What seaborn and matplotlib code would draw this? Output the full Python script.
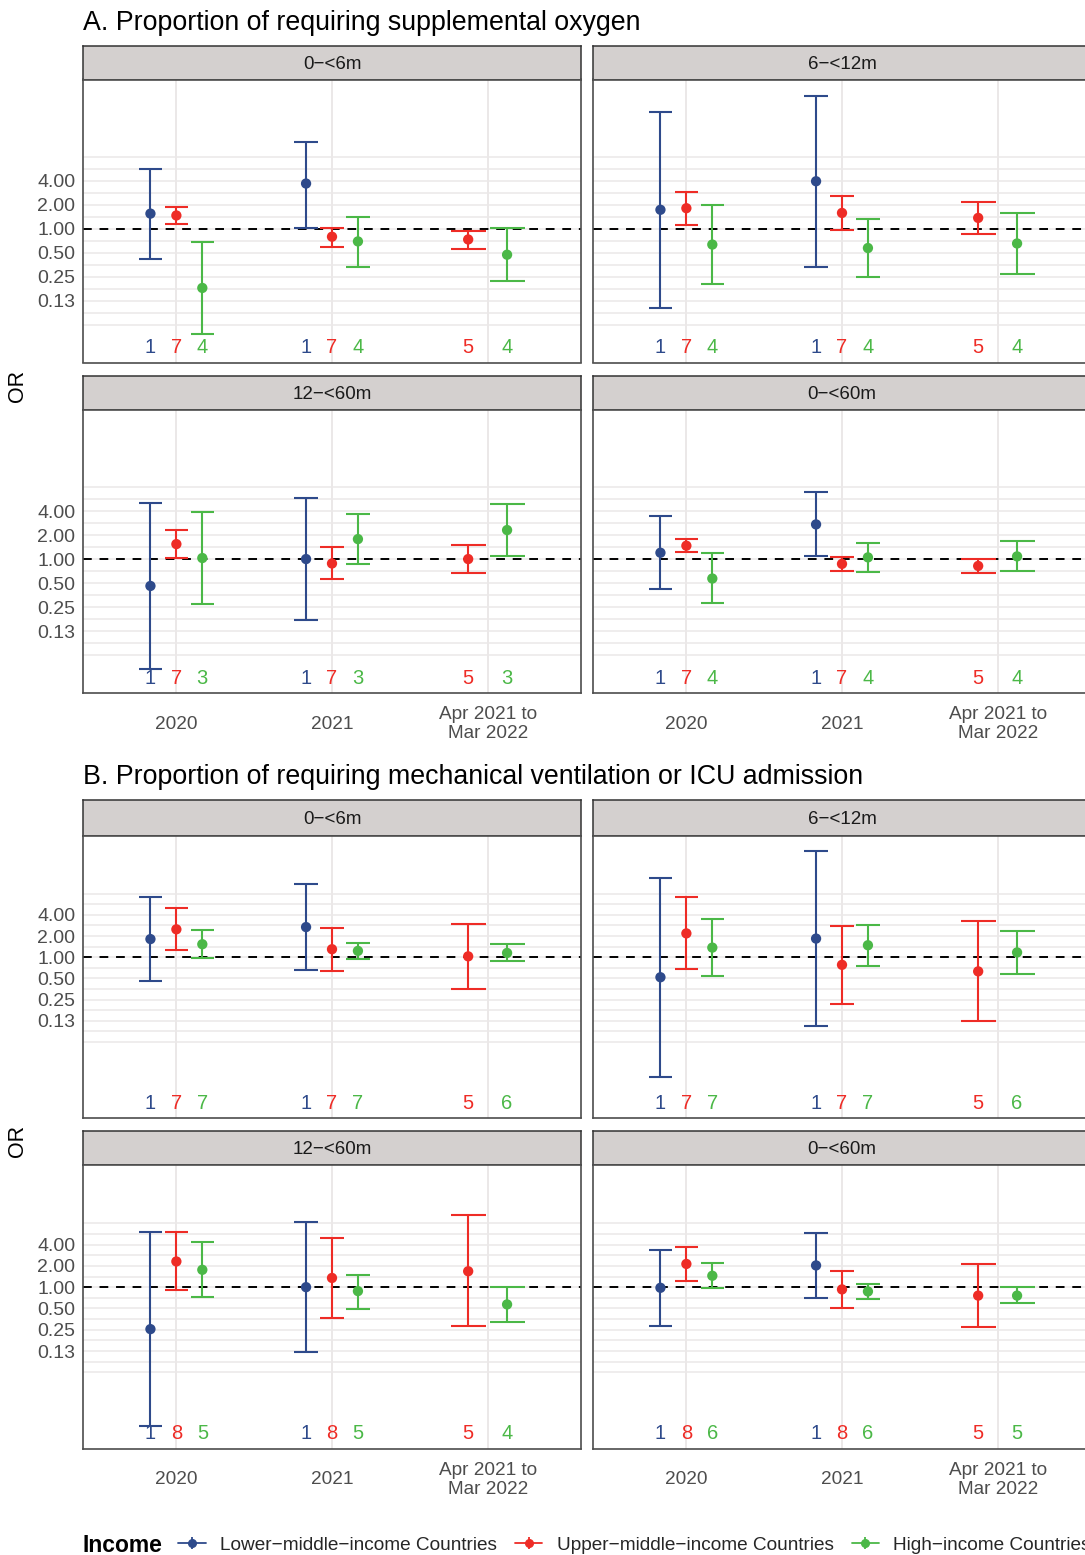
import numpy as np
import pandas as pd
import matplotlib
matplotlib.use("Agg")
import matplotlib.pyplot as plt
from matplotlib.lines import Line2D
from matplotlib.ticker import FixedLocator, FixedFormatter, NullFormatter
from matplotlib.transforms import blended_transform_factory
import seaborn as sns

# ---------------- data ----------------
periods = ["2020", "2021", "Apr 2021 to\nMar 2022"]
incomes = ["Lower\u2212middle\u2212income Countries",
           "Upper\u2212middle\u2212income Countries",
           "High\u2212income Countries"]
age_groups = ["0\u2212<6m", "6\u2212<12m", "12\u2212<60m", "0\u2212<60m"]
palette = ["#2E4A8B", "#EE2C26", "#4BB847"]

# estimate slots inside every age-group panel: (period, income)
slot_period = [0, 0, 0, 1, 1, 1, 2, 2]
slot_income = [0, 1, 2, 0, 1, 2, 1, 2]

# A. supplemental oxygen
oxy_or = [
    [1.54, 1.46, 0.18, 3.67, 0.79, 0.69, 0.73, 0.47],
    [1.72, 1.80, 0.63, 3.92, 1.57, 0.57, 1.36, 0.65],
    [0.46, 1.54, 1.03, 1.00, 0.88, 1.78, 1.00, 2.31],
    [1.20, 1.47, 0.57, 2.72, 0.87, 1.05, 0.82, 1.08],
]
oxy_lo = [
    [0.41, 1.15, 0.048, 1.03, 0.59, 0.33, 0.56, 0.22],
    [0.10, 1.12, 0.20, 0.33, 0.96, 0.25, 0.86, 0.27],
    [0.042, 1.03, 0.275, 0.17, 0.556, 0.87, 0.67, 1.09],
    [0.42, 1.21, 0.28, 1.09, 0.71, 0.69, 0.67, 0.70],
]
oxy_hi = [
    [5.66, 1.85, 0.68, 12.3, 1.03, 1.41, 0.94, 1.03],
    [28.8, 2.85, 1.96, 46.6, 2.57, 1.33, 2.16, 1.56],
    [5.00, 2.31, 3.89, 5.88, 1.41, 3.67, 1.50, 4.90],
    [3.43, 1.76, 1.18, 6.86, 1.07, 1.59, 1.00, 1.67],
]
oxy_n = [
    [1, 7, 4, 1, 7, 4, 5, 4],
    [1, 7, 4, 1, 7, 4, 5, 4],
    [1, 7, 3, 1, 7, 3, 5, 3],
    [1, 7, 4, 1, 7, 4, 5, 4],
]

# B. mechanical ventilation or ICU admission
vent_or = [
    [1.81, 2.49, 1.53, 2.68, 1.30, 1.23, 1.03, 1.15],
    [0.52, 2.18, 1.37, 1.84, 0.78, 1.48, 0.63, 1.17],
    [0.255, 2.31, 1.76, 1.00, 1.35, 0.88, 1.68, 0.57],
    [0.98, 2.13, 1.45, 2.03, 0.93, 0.87, 0.76, 0.76],
]
vent_lo = [
    [0.46, 1.26, 0.97, 0.655, 0.64, 0.93, 0.35, 0.88],
    [0.020, 0.67, 0.54, 0.105, 0.22, 0.75, 0.126, 0.575],
    [0.011, 0.91, 0.715, 0.121, 0.37, 0.49, 0.28, 0.32],
    [0.28, 1.24, 0.96, 0.70, 0.50, 0.68, 0.275, 0.59],
]
vent_hi = [
    [7.27, 5.04, 2.43, 11.0, 2.57, 1.61, 3.00, 1.53],
    [13.5, 7.10, 3.45, 31.7, 2.77, 2.90, 3.26, 2.35],
    [5.99, 5.99, 4.42, 8.28, 5.04, 1.48, 10.4, 1.00],
    [3.41, 3.67, 2.18, 5.93, 1.70, 1.11, 2.13, 0.99],
]
vent_n = [
    [1, 7, 7, 1, 7, 7, 5, 6],
    [1, 7, 7, 1, 7, 7, 5, 6],
    [1, 8, 5, 1, 8, 5, 5, 4],
    [1, 8, 6, 1, 8, 6, 5, 5],
]

y_ticks = [0.125, 0.25, 0.5, 1, 2, 4]
y_tick_labels = ["0.13", "0.25", "0.50", "1.00", "2.00", "4.00"]
titles = ["A. Proportion of requiring supplemental oxygen",
          "B. Proportion of requiring mechanical ventilation or ICU admission"]

# ---------------- style ----------------
sns.set_style("white")
plt.rcParams["font.family"] = ["Liberation Sans", "DejaVu Sans"]

DODGE = 0.5
CAP = 0.45


def build(or_, lo, hi, n):
    rows = []
    for a, age in enumerate(age_groups):
        for k in range(len(slot_period)):
            rows.append(dict(age=age, pidx=slot_period[k],
                             income=incomes[slot_income[k]],
                             inc_idx=slot_income[k],
                             OR=or_[a][k], lo=lo[a][k], hi=hi[a][k], n=n[a][k]))
    df = pd.DataFrame(rows)
    g = df.groupby(["age", "pidx"])
    cnt = g["income"].transform("count")
    rank = g.cumcount()
    df["x"] = df["pidx"] + (rank - (cnt - 1) / 2) * DODGE / cnt
    df["capw"] = CAP / cnt
    return df


datasets = [build(oxy_or, oxy_lo, oxy_hi, oxy_n),
            build(vent_or, vent_lo, vent_hi, vent_n)]
ylims = [(2 ** -5.58, 2 ** 6.21), (2 ** -7.58, 2 ** 5.74)]

W, H = 1085, 1555
fig = plt.figure(figsize=(W / 100, H / 100), dpi=100)


def fax(x0, y0, x1, y1):
    return fig.add_axes([x0 / W, 1 - y1 / H, (x1 - x0) / W, (y1 - y0) / H])


cols = [(83, 581), (593, 1091)]
section_rows = [
    [(46, 79.5, 362.5), (376, 410, 693)],
    [(800, 835.5, 1118), (1131, 1165, 1448.5)],
]
title_base = [29.5, 783.5]
or_center = [386, 1141]

grid_minor = [2.0 ** (k / 2) for k in range(-8, 7)]

for s, df in enumerate(datasets):
    fig.text(83 / W, 1 - title_base[s] / H, titles[s], fontsize=19.3,
             ha="left", va="baseline", color="black")
    fig.text(18 / W, 1 - or_center[s] / H, "OR", rotation=90, fontsize=15.5,
             ha="center", va="center", color="black")
    for a, age in enumerate(age_groups):
        r, c = divmod(a, 2)
        ys, yt, yb = section_rows[s][r]
        x0, x1 = cols[c]
        # strip
        sax = fax(x0, ys, x1, yt)
        sax.set_facecolor("#D4D0CF")
        sax.set_xticks([]); sax.set_yticks([])
        for sp in sax.spines.values():
            sp.set_color("#333333"); sp.set_linewidth(1.1)
        sax.text(0.5, 0.45, age, ha="center", va="center", fontsize=13.5,
                 color="#1A1A1A", transform=sax.transAxes)
        # panel
        ax = fax(x0, yt, x1, yb)
        d = df[df["age"] == age]
        ax.set_yscale("log", base=2)
        ax.set_xlim(-0.6, 2.6)
        ax.set_ylim(*ylims[s])
        for gy in grid_minor:
            ax.axhline(gy, color="#EBE8E8", lw=1.1, zorder=0)
        for gx in range(len(periods)):
            ax.axvline(gx, color="#EBE8E8", lw=1.4, zorder=0)
        ax.axhline(1, color="black", lw=1.4, ls=(0, (4.5, 4)), zorder=2.5)
        for i, inc in enumerate(incomes):
            sd = d[d["income"] == inc]
            if sd.empty:
                continue
            ax.vlines(sd["x"], sd["lo"], sd["hi"], color=palette[i], lw=1.5, zorder=3)
            ax.hlines(sd["lo"], sd["x"] - sd["capw"] / 2, sd["x"] + sd["capw"] / 2,
                      color=palette[i], lw=1.5, zorder=3)
            ax.hlines(sd["hi"], sd["x"] - sd["capw"] / 2, sd["x"] + sd["capw"] / 2,
                      color=palette[i], lw=1.5, zorder=3)
        sns.scatterplot(data=d, x="x", y="OR", hue="income", hue_order=incomes,
                        palette=palette, s=55, edgecolor="none", linewidth=0,
                        legend=False, ax=ax, zorder=4)
        trans = blended_transform_factory(ax.transData, ax.transAxes)
        for row in d.itertuples():
            ax.text(row.x, 0.053, str(row.n), color=palette[row.inc_idx],
                    transform=trans, ha="center", va="center", fontsize=14.5)
        ax.set_xlabel(""); ax.set_ylabel("")
        ax.yaxis.set_major_locator(FixedLocator(y_ticks))
        ax.yaxis.set_minor_locator(FixedLocator([]))
        if c == 0:
            ax.yaxis.set_major_formatter(FixedFormatter(y_tick_labels))
            ax.tick_params(axis="y", which="major", length=3.6, width=1,
                           color="#333333", labelsize=14, labelcolor="#4D4D4D", pad=2)
        else:
            ax.yaxis.set_major_formatter(NullFormatter())
            ax.tick_params(axis="y", which="major", length=0)
        ax.set_xticks(range(len(periods)))
        if r == 1:
            ax.set_xticklabels(periods, linespacing=1.15)
            ax.tick_params(axis="x", length=3.6, width=1, color="#333333",
                           labelsize=13.7, labelcolor="#4D4D4D", pad=19)
            for lbl in ax.get_xticklabels():
                lbl.set_verticalalignment("center")
        else:
            ax.set_xticklabels([])
            ax.tick_params(axis="x", length=0)
        for sp in ax.spines.values():
            sp.set_visible(True); sp.set_color("#4D4D4D"); sp.set_linewidth(1.2)
        ax.grid(False)

# legend (the reference crops the last entry at the right edge)
fig.text(83 / W, 1 - 1545 / H, "Income", fontsize=16.5, fontweight="bold",
         ha="left", va="center", color="black")
handles = []
for col in palette:
    h1 = Line2D([], [], color=col, lw=1.3, marker="o", markersize=5.5, linestyle="-")
    h2 = Line2D([], [], color=col, marker="|", markersize=9, markeredgewidth=1.3,
                linestyle="none")
    handles.append((h1, h2))
fig.legend(handles, incomes, loc="center left", bbox_to_anchor=(178 / W, 1 - 1545 / H),
           ncol=3, frameon=False, fontsize=13.7, handlelength=1.45, handletextpad=0.75,
           columnspacing=0.95, borderpad=0, borderaxespad=0)

fig.savefig("out.png", dpi=100)
